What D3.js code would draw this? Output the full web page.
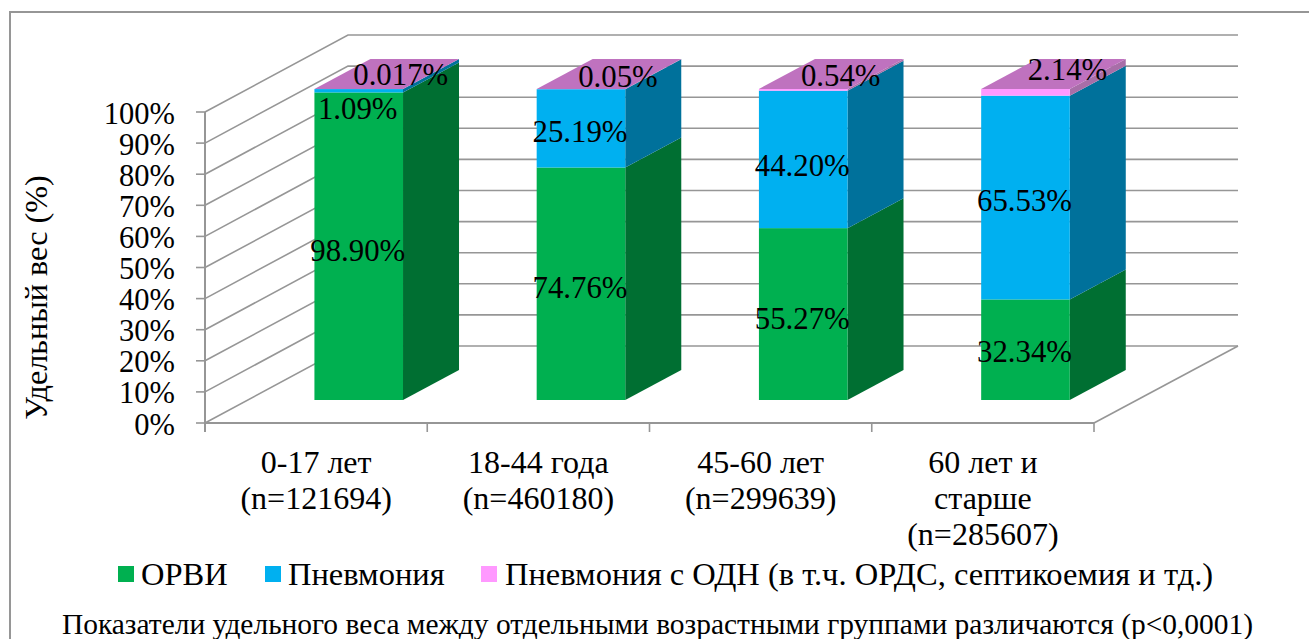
<!DOCTYPE html>
<html><head><meta charset="utf-8">
<script src="https://cdnjs.cloudflare.com/ajax/libs/d3/7.8.5/d3.min.js"></script>
<style>html,body{margin:0;background:#fff;overflow:hidden}svg{display:block}text{font-family:"Liberation Serif",serif;fill:#000}</style>
</head><body><svg id="c" width="1309" height="639"></svg>
<script>
const categories=[["0-17 лет","(n=121694)"],["18-44 года","(n=460180)"],["45-60 лет","(n=299639)"],["60 лет и","старше","(n=285607)"]];
const seriesNames=["ОРВИ","Пневмония","Пневмония с ОДН (в т.ч. ОРДС, септикоемия и тд.)"];
const orvi=[98.90,74.76,55.27,32.34];
const pneumonia=[1.09,25.19,44.20,65.53];
const odn=[0.017,0.05,0.54,2.14];
const orviLabels=["98.90%","74.76%","55.27%","32.34%"];
const pneumoniaLabels=["1.09%","25.19%","44.20%","65.53%"];
const odnLabels=["0.017%","0.05%","0.54%","2.14%"];
const yTicks=[0,10,20,30,40,50,60,70,80,90,100];
const front=["#00B050","#00B0F0","#FF99FF"];
const side=["#006F32","#00719B","#A86EA8"];
const topFace="#BF72BF";
const axisColor="#969696";

const svg=d3.select("#c");
const x=d3.scaleBand().domain(d3.range(4)).range([205,1094]).paddingInner(0).paddingOuter(0);
const y=d3.scaleLinear().domain([0,100]).range([423,112]);
const wallDx=143,wallDy=-77;
const barDx=42.6,barDy=-23,barW=88.6,depthDx=56,depthDy=-30;

// outer frame (no visible right edge)
svg.append("path").attr("fill","none").attr("stroke",axisColor).attr("stroke-width",2)
  .attr("d","M10,639V12H1309");

// gridlines
const g=svg.append("g").attr("fill","none").attr("stroke",axisColor);
yTicks.forEach(t=>{
  const yy=y(t);
  g.append("path").attr("stroke-width",1.6).attr("d",d3.line()([[205,yy],[205+wallDx,yy+wallDy],[205+wallDx+890,yy+wallDy]]));
  g.append("path").attr("stroke-width",1.6).attr("d",d3.line()([[196,yy],[205,yy]]));
});
g.append("path").attr("stroke-width",2).attr("d",d3.line()([[205,y(100)],[205,y(0)+9]]));
g.append("path").attr("stroke-width",2).attr("d",d3.line()([[205,y(0)],[1094,y(0)]]));
g.append("path").attr("stroke-width",1.6).attr("d",d3.line()([[1094,y(0)],[1094+wallDx+1,y(0)+wallDy]]));
d3.range(5).forEach(i=>{
  const xx=i<4?x(i):x.range()[1];
  g.append("path").attr("stroke-width",1.6).attr("d",d3.line()([[xx,y(0)],[xx,y(0)+9]]));
});

// bars
const stack=d3.stack().keys([0,1,2]).value((d,k)=>d[k]).offset(d3.stackOffsetExpand);
const rows=orvi.map((v,i)=>[v,pneumonia[i],odn[i]]);
const layers=stack(rows);
const by=v=>y(v*100)+barDy;
const bars=svg.append("g");
d3.range(4).forEach(i=>{
  const x0=x(i)+(x.bandwidth()-barW)/2+barDx,x1=x0+barW;
  layers.forEach((L,k)=>{
    const [a,b]=L[i];
    bars.append("path").attr("fill",side[k]).attr("d",d3.line()([[x1,by(a)],[x1+depthDx,by(a)+depthDy],[x1+depthDx,by(b)+depthDy],[x1,by(b)]])+"Z");
  });
  layers.forEach((L,k)=>{
    const [a,b]=L[i];
    bars.append("rect").attr("fill",front[k]).attr("x",x0).attr("width",barW).attr("y",by(b)).attr("height",by(a)-by(b));
  });
  const t=by(layers[2][i][1]);
  bars.append("path").attr("fill",topFace).attr("d",d3.line()([[x0,t],[x0+depthDx,t+depthDy],[x1+depthDx,t+depthDy],[x1,t]])+"Z");
});

// y ticks
svg.append("g").selectAll("text").data(yTicks).join("text")
 .attr("x",175).attr("y",d=>y(d)+11.5).attr("text-anchor","end").attr("font-size",30.5).text(d=>d+"%");
// y title
svg.append("text").attr("transform","translate(47,297.5) rotate(-90)").attr("text-anchor","middle").attr("font-size",32.2).text("Удельный вес (%)");
// category labels
categories.forEach((c,i)=>{
  c.forEach((s,j)=>svg.append("text").attr("x",x(i)+x.bandwidth()/2).attr("y",473+j*36).attr("text-anchor","middle").attr("font-size",32).text(s));
});
// data labels
const lab=(s,i,yy,dx)=>svg.append("text").attr("x",x(i)+x.bandwidth()/2+barDx+dx).attr("y",yy).attr("text-anchor","middle").attr("font-size",30.8).text(s);
const lo=[261,298,329,362], lp=[119,142,176,211], lt=[85,87,86,80], tdx=[42,37,37.5,42];
d3.range(4).forEach(i=>{
  lab(orviLabels[i],i,lo[i],-1);
  lab(pneumoniaLabels[i],i,lp[i],-1);
  lab(odnLabels[i],i,lt[i],tdx[i]);
});
// legend
const lg=svg.append("g");
const lx=[118,265,481],ltx=[141,288,505];
seriesNames.forEach((n,i)=>{
  lg.append("rect").attr("x",lx[i]).attr("y",566).attr("width",16).attr("height",16).attr("fill",front[i]);
  lg.append("text").attr("x",ltx[i]).attr("y",585).attr("font-size",32.5).text(n);
});
// footnote
svg.append("text").attr("x",657.5).attr("y",634).attr("text-anchor","middle").attr("font-size",29.45).text("Показатели удельного веса между отдельными возрастными группами различаются (p<0,0001)");
</script></body></html>
